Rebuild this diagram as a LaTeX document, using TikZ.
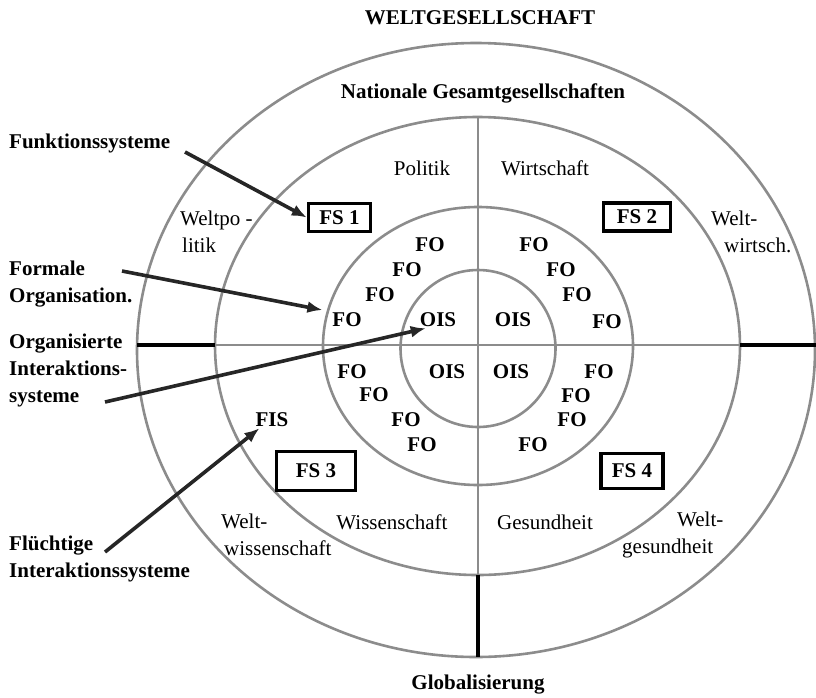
\documentclass[tikz,border=0pt]{standalone}
\usepackage{fontspec}
\setmainfont{Liberation Serif}
\usetikzlibrary{arrows.meta}

\begin{document}
\begin{tikzpicture}[x=1pt,y=-1pt,
  every node/.style={font=\fontsize{21}{27}\selectfont, inner sep=1pt},
  fett/.style={font=\fontsize{21}{27}\selectfont\bfseries},
  ring/.style={draw=black!45, line width=2.6pt},
  achse/.style={draw=black!45, line width=2.6pt},
  balken/.style={draw=black, line width=3.8pt},
  fsbox/.style={fett, draw, line width=3.4pt, minimum width=62pt, minimum height=28pt},
  pfeil/.style={draw=black!85, line width=3.6pt, -{Latex[length=15pt,width=12pt]}}]

  \useasboundingbox (0,0) rectangle (816,697);

  % Kreise
  \draw[ring] (476,350) ellipse [x radius=339, y radius=307];
  \draw[ring] (477.5,346) ellipse [x radius=262.5, y radius=229];
  \draw[ring] (478,346) ellipse [x radius=155, y radius=139];
  \draw[ring] (478,348.5) ellipse [x radius=77.5, y radius=78.5];

  % Achsen
  \draw[achse] (215,345) -- (740,345);
  \draw[balken] (137,345) -- (215,345);
  \draw[balken] (740,345) -- (816,345);
  \draw[achse] (478,117) -- (478,575);
  \draw[balken] (478,575) -- (478,657);

  \node[fett] (welt) at (480,18) {WELTGESELLSCHAFT};
  \node[fett] (national) at (483,93) {Nationale Gesamtgesellschaften};
  \node[fett] (global) at (478,685) {Globalisierung};

  \node[fett, anchor=west] (funk) at (8,143) {Funktionssysteme};
  \node[fett, anchor=west, align=left] (formal) at (8,284) {Formale\\Organisation.};
  \node[fett, anchor=west, align=left] (organ) at (8,370) {Organisierte\\Interaktions-\\systeme};
  \node[fett, anchor=west, align=left] (fluecht) at (8,559) {Flüchtige\\Interaktionssysteme};

  \node (politik) at (422,168) {Politik};
  \node (wirtschaft) at (545,168) {Wirtschaft};
  \node[anchor=west, align=left] (weltpol) at (179,232) {Weltpo -\\\hspace*{2pt}litik};
  \node[anchor=west, align=left] (weltwirt) at (710,232) {Welt-\\\hspace*{13pt}wirtsch.};
  \node[anchor=west, align=left] (weltwiss) at (220,535) {Welt-\\\hspace*{3pt}wissenschaft};
  \node (wissenschaft) at (392,522) {Wissenschaft};
  \node (gesundheit) at (545,522) {Gesundheit};
  \node[anchor=west, align=left] (weltges) at (621,535) {\hspace*{55pt}Welt-\\gesundheit};

  \node[fsbox] (fs1) at (339.5,217.5) {FS 1};
  \node[fsbox, minimum width=67pt] (fs2) at (637,217) {FS 2};
  \node[fsbox, minimum width=79pt, minimum height=39pt] (fs3) at (316,471) {FS 3};
  \node[fsbox, minimum height=35pt] (fs4) at (632,471) {FS 4};

  \foreach \x/\y [count=\i] in {430/245, 407/270, 380/295, 347/320,
      534/245, 561/270, 577/295, 607/322,
      352/372, 374/395, 406/420, 422/445,
      599/372, 576/396, 572/420, 533/445}
    \node[fett] (fo\i) at (\x,\y) {FO};

  \node[fett] (ois1) at (438,320) {OIS};
  \node[fett] (ois2) at (513,320) {OIS};
  \node[fett] (ois3) at (447,372) {OIS};
  \node[fett] (ois4) at (511,372) {OIS};
  \node[fett] (fis) at (272,420) {FIS};

  % Pfeile
  \coordinate (funk-a) at (185,152);
  \coordinate (formal-a) at (122,271);
  \coordinate (organ-a) at (105,402);
  \coordinate (fluecht-a) at (105,552);
  \draw[pfeil] (funk-a) -- (fs1.west);
  \draw[pfeil, shorten >=9pt] (formal-a) -- (fo4.north west);
  \draw[pfeil] (organ-a) -- ([xshift=7pt]ois1.south west);
  \draw[pfeil] (fluecht-a) -- ([xshift=5pt]fis.south west);

\end{tikzpicture}
\end{document}
